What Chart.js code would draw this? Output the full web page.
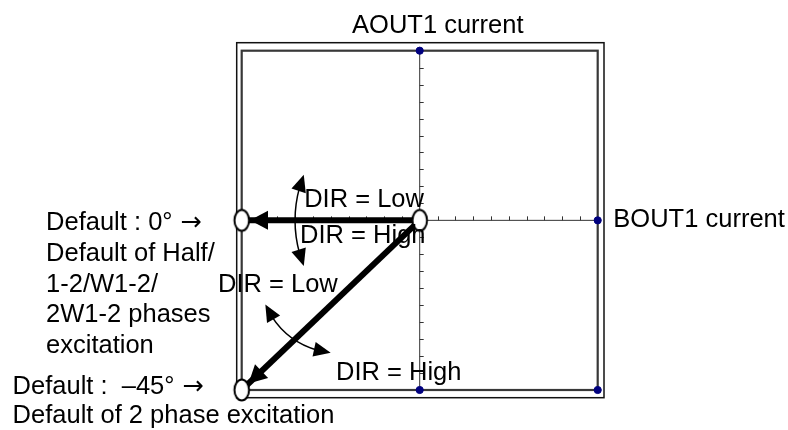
<!DOCTYPE html>
<html><head><meta charset="utf-8">
<script src="https://cdn.jsdelivr.net/npm/chart.js@4/dist/chart.umd.min.js"></script>
<style>html,body{margin:0;padding:0;background:#fff}#c{display:block}</style>
</head><body>
<canvas id="c" width="788" height="430"></canvas>
<script>
// ---- data ----
const axisRange = [-1, 1];
const axisTicks = [-0.9,-0.8,-0.7,-0.6,-0.5,-0.4,-0.3,-0.2,-0.1,0.1,0.2,0.3,0.4,0.5,0.6,0.7,0.8,0.9];
const originX = 0;
const originY = 0;
const defaultNames = ['0°', '–45°'];
const defaultX = [-1, -1];
const defaultY = [0, -1];
const limitX = [0, 1, 1, 0];
const limitY = [1, 0, -1, -1];

// ---- annotations (data coordinates) ----
const FONT = '25.5px "Liberation Sans", Arial, sans-serif';
const ARROW_FONT = '25.5px "DejaVu Sans", sans-serif';
const textLabels = [
  {text: 'AOUT1 current', x: -0.380, y: 1.102},
  {text: 'BOUT1 current', x: 1.088, y: -0.038},
  {text: 'DIR = Low', x: -0.649, y: 0.080},
  {text: 'DIR = High', x: -0.672, y: -0.136},
  {text: 'DIR = Low', x: -1.133, y: -0.421},
  {text: 'DIR = High', x: -0.470, y: -0.944},
  {text: 'Default : 0°', arrow: true, x: -2.099, y: -0.057},
  {text: 'Default of Half/', x: -2.099, y: -0.238},
  {text: '1-2/W1-2/', x: -2.099, y: -0.421},
  {text: '2W1-2 phases', x: -2.099, y: -0.600},
  {text: 'excitation', x: -2.099, y: -0.781},
  {text: 'Default :  –45°', arrow: true, x: -2.287, y: -1.024},
  {text: 'Default of 2 phase excitation', x: -2.287, y: -1.195}
];
// rotation arcs: centre in data coords, radius in x-axis units, angles in canvas degrees
const turnArcs = [
  {cx: 0, cy: 0, r: 0.70, from: 158.5, to: 201.5},
  {cx: -0.453, cy: -0.311, r: 0.45, from: 96, to: 157}
];

// ---- styles ----
const ELL_RX = 7.3, ELL_RY = 10.5, ELL_LW = 2;
function makeEllipse() {
  const c = document.createElement('canvas');
  c.width = 22; c.height = 28;
  const g = c.getContext('2d');
  g.beginPath();
  g.ellipse(11, 14, ELL_RX, ELL_RY, 0, 0, Math.PI * 2);
  g.fillStyle = '#fff'; g.fill();
  g.lineWidth = ELL_LW; g.strokeStyle = '#000'; g.stroke();
  return c;
}
const ellipseImg = makeEllipse();

function pts(xs, ys) { return xs.map((x, i) => ({x, y: ys[i]})); }

const datasets = [
  {label: 'limits', data: pts(limitX, limitY), showLine: false, pointRadius: 3.6, pointBorderWidth: 1,
   pointBackgroundColor: '#00007f', pointBorderColor: '#00007f', clip: false},
  {label: 'ends', data: [{x: originX, y: originY}].concat(pts(defaultX, defaultY)), showLine: false,
   pointStyle: ellipseImg, pointRadius: 10, clip: false},
  ...defaultX.map((x, i) => ({
    label: 'Default ' + defaultNames[i], data: [{x: originX, y: originY}, {x, y: defaultY[i]}],
    showLine: true, borderColor: '#000', borderWidth: 6, pointRadius: 0, borderCapStyle: 'butt', clip: false
  })),
  {label: 'BOUT axis', data: [{x: axisRange[0], y: 0}, {x: axisRange[1], y: 0}], showLine: true,
   borderColor: '#333', borderWidth: 1, pointRadius: 0, clip: false},
  {label: 'AOUT axis', data: [{x: 0, y: axisRange[0]}, {x: 0, y: axisRange[1]}], showLine: true,
   borderColor: '#333', borderWidth: 1, pointRadius: 0, clip: false}
];

function arrowHead(ctx, tx, ty, bx, by, hw) {
  const dx = tx - bx, dy = ty - by, len = Math.hypot(dx, dy);
  const nx = -dy / len, ny = dx / len;
  ctx.beginPath();
  ctx.moveTo(tx, ty);
  ctx.lineTo(bx + nx * hw, by + ny * hw);
  ctx.lineTo(bx - nx * hw, by - ny * hw);
  ctx.closePath();
  ctx.fill();
}

const diagramPlugin = {
  id: 'diagram',
  beforeDatasetsDraw(chart) {
    const {ctx, chartArea: a, scales: {x, y}} = chart;
    ctx.save();
    ctx.strokeStyle = '#111'; ctx.lineWidth = 1.5;
    ctx.strokeRect(a.left - 5, a.top - 8, (a.right + 6.3) - (a.left - 5), (a.bottom + 7.7) - (a.top - 8));
    ctx.strokeStyle = '#383838'; ctx.lineWidth = 2.2;
    ctx.strokeRect(a.left, a.top, a.right - a.left, a.bottom - a.top);
    ctx.strokeStyle = '#333'; ctx.lineWidth = 1;
    const x0 = x.getPixelForValue(0), y0 = y.getPixelForValue(0);
    ctx.beginPath();
    axisTicks.forEach(v => {
      const px = Math.round(x.getPixelForValue(v)) + 0.5;
      ctx.moveTo(px, y0); ctx.lineTo(px, y0 - 4);
      const py = Math.round(y.getPixelForValue(v)) + 0.5;
      ctx.moveTo(x0, py); ctx.lineTo(x0 + 4, py);
    });
    ctx.stroke();
    ctx.restore();
  },
  afterDatasetDraw(chart, args) {
    const ds = chart.data.datasets[args.index];
    if (!ds.label.startsWith('Default')) return;
    const {ctx, scales: {x, y}} = chart;
    const p0 = {x: x.getPixelForValue(ds.data[0].x), y: y.getPixelForValue(ds.data[0].y)};
    const p1 = {x: x.getPixelForValue(ds.data[1].x), y: y.getPixelForValue(ds.data[1].y)};
    let dx = p1.x - p0.x, dy = p1.y - p0.y;
    const len = Math.hypot(dx, dy); dx /= len; dy /= len;
    const rx = ELL_RX + ELL_LW / 2, ry = ELL_RY + ELL_LW / 2;
    const edge = 1 / Math.sqrt((dx / rx) ** 2 + (dy / ry) ** 2);
    const tx = p1.x - dx * edge, ty = p1.y - dy * edge;
    ctx.save();
    ctx.fillStyle = '#000';
    arrowHead(ctx, tx, ty, tx - dx * 18, ty - dy * 18, 9.5);
    ctx.restore();
  },
  afterDatasetsDraw(chart) {
    const {ctx, scales: {x, y}} = chart;
    const unit = x.getPixelForValue(1) - x.getPixelForValue(0);
    ctx.save();
    ctx.strokeStyle = '#000'; ctx.fillStyle = '#000'; ctx.lineWidth = 1.5;
    turnArcs.forEach(arc => {
      const cx = x.getPixelForValue(arc.cx), cy = y.getPixelForValue(arc.cy);
      const r = arc.r * unit;
      const a1 = arc.from * Math.PI / 180, a2 = arc.to * Math.PI / 180;
      const L = 17, d = L / r;
      ctx.beginPath();
      ctx.arc(cx, cy, r, a1 + d * 0.8, a2 - d * 0.8);
      ctx.stroke();
      const P = a => [cx + r * Math.cos(a), cy + r * Math.sin(a)];
      let t = P(a1), b = P(a1 + d);
      arrowHead(ctx, t[0], t[1], b[0], b[1], 7.5);
      t = P(a2); b = P(a2 - d);
      arrowHead(ctx, t[0], t[1], b[0], b[1], 7.5);
    });
    ctx.textAlign = 'left';
    ctx.textBaseline = 'alphabetic';
    ctx.fillStyle = '#000';
    textLabels.forEach(l => {
      const px = x.getPixelForValue(l.x), py = y.getPixelForValue(l.y);
      ctx.font = FONT;
      ctx.fillText(l.text, px, py);
      if (l.arrow) {
        const w = ctx.measureText(l.text + ' ').width;
        ctx.font = ARROW_FONT;
        ctx.fillText('→', px + w + 1, py);
      }
    });
    ctx.restore();
  }
};

new Chart(document.getElementById('c'), {
  type: 'scatter',
  data: {datasets},
  options: {
    responsive: false,
    animation: false,
    events: [],
    layout: {padding: {left: 241.7, right: 190.3, top: 50.7, bottom: 40}},
    scales: {
      x: {type: 'linear', min: axisRange[0], max: axisRange[1], display: false},
      y: {type: 'linear', min: axisRange[0], max: axisRange[1], display: false}
    },
    plugins: {legend: {display: false}, tooltip: {enabled: false}, title: {display: false}}
  },
  plugins: [diagramPlugin]
});
</script>
</body></html>
